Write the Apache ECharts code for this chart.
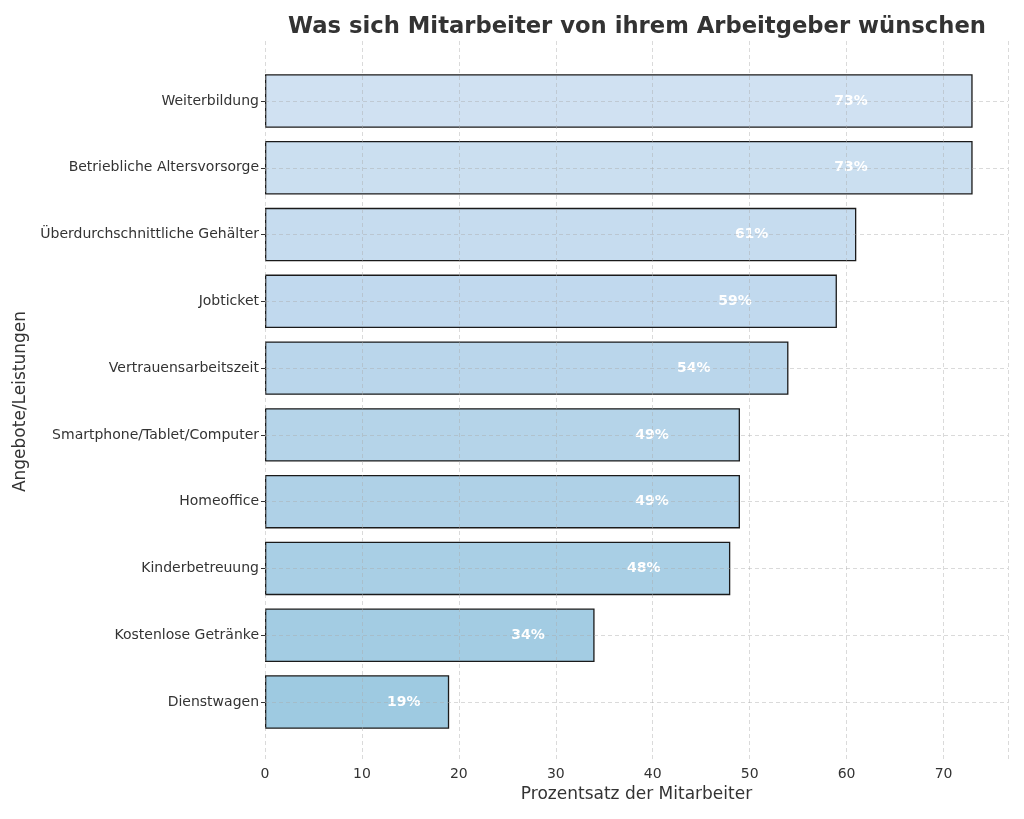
<!DOCTYPE html>
<html><head><meta charset="utf-8">
<script src="https://cdn.jsdelivr.net/npm/echarts@6/dist/echarts.min.js"></script>
<style>html,body{margin:0;padding:0;background:#fff}#c{width:1024px;height:819px}</style>
</head><body><div id="c"></div>
<script>
const categories = ['Dienstwagen','Kostenlose Getränke','Kinderbetreuung','Homeoffice','Smartphone/Tablet/Computer','Vertrauensarbeitszeit','Jobticket','Überdurchschnittliche Gehälter','Betriebliche Altersvorsorge','Weiterbildung'];
const values = [19,34,48,49,49,54,59,61,73,73];
const xTicks = [0,10,20,30,40,50,60,70];
const palette = ['#9ecae1','#a3cce3','#a9cfe5','#afd1e7','#b5d4e9','#bad6eb','#c1d9ee','#c6dcef','#cbdff0','#d0e1f2'];

const xMax = 76.65;
const FONT = 'DejaVu Sans';
const chart = echarts.init(document.getElementById('c'), null, {renderer:'canvas'});
const gridLine = {show:true, lineStyle:{color:'rgba(170,170,170,0.55)', type:[4,3], width:0.8}};
chart.setOption({
  animation:false,
  backgroundColor:'#fff',
  title:{text:'Was sich Mitarbeiter von ihrem Arbeitgeber wünschen', left:632, top:11, textAlign:'center',
    textStyle:{fontFamily:FONT, fontSize:22.7, fontWeight:'bold', color:'#333'}},
  grid:[
    {left:265, right:16, top:67.6, bottom:83.6},
    {left:265, right:16, top:41, bottom:57}
  ],
  xAxis:[
    {gridIndex:0, type:'value', min:0, max:xMax, show:false},
    {gridIndex:1, type:'value', min:0, max:xMax, interval:10, z:5,
      axisLine:{show:false}, axisTick:{show:false},
      axisLabel:{fontFamily:FONT, fontSize:14, color:'#333', margin:5,
        formatter:v => xTicks.includes(v) ? String(v) : ''},
      splitLine:gridLine,
      name:'Prozentsatz der Mitarbeiter', nameLocation:'middle', nameGap:23,
      nameTextStyle:{fontFamily:FONT, fontSize:17, color:'#333'}}
  ],
  yAxis:[
    {gridIndex:0, type:'category', data:categories,
      axisLine:{show:false}, axisTick:{show:true, alignWithLabel:true, length:4, lineStyle:{color:'#333'}},
      axisLabel:{fontFamily:FONT, fontSize:14, color:'#333', margin:6},
      splitLine:{show:false},
      name:'Angebote/Leistungen', nameLocation:'middle', nameGap:232, nameRotate:90,
      nameTextStyle:{fontFamily:FONT, fontSize:17, color:'#333'}},
    {gridIndex:1, type:'value', min:0, max:1, show:false}
  ],
  series:[{
    type:'bar', xAxisIndex:0, yAxisIndex:0, barWidth:'80%',
    data: values.map((v,i) => ({value:v, itemStyle:{color:palette[i]},
      label:{position:[((0.854 - 1.9/v)*100).toFixed(1)+'%','50%']}})),
    itemStyle:{borderColor:'#1a1a1a', borderWidth:1.3},
    label:{show:true, formatter:'{c}%', align:'center', verticalAlign:'middle',
      fontFamily:FONT, fontSize:14, fontWeight:'bold', color:'#fff'},
    markLine:{silent:true, symbol:'none', label:{show:false}, z:5,
      lineStyle:{color:'rgba(170,170,170,0.55)', type:[4,3], width:0.8},
      data: categories.map(c => ({yAxis:c}))}
  }]
});
</script></body></html>
